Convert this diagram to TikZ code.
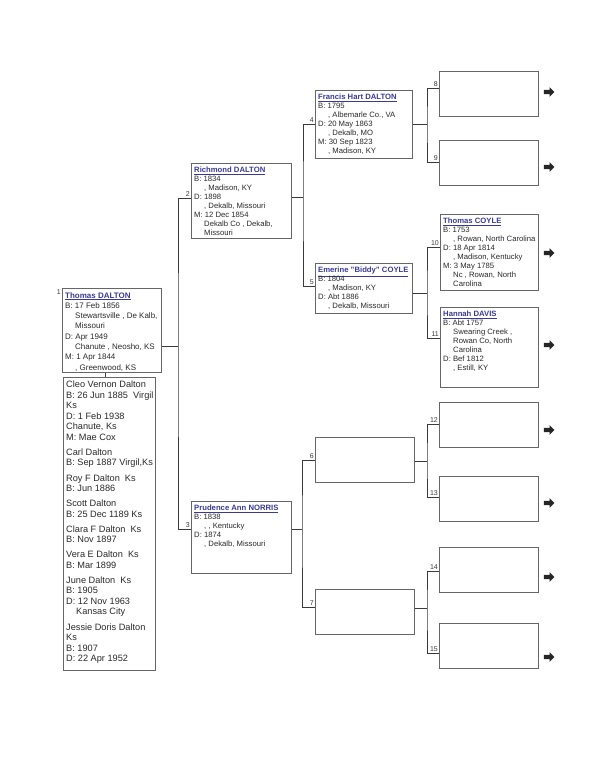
\documentclass[tikz,border=0pt]{standalone}
\usepackage{fontspec}
\setmainfont{Liberation Sans}
\usetikzlibrary{shapes.arrows, positioning, calc}
\definecolor{boxline}{HTML}{666666}
\definecolor{linkline}{HTML}{3A3A3A}
\definecolor{namecol}{HTML}{3A3A95}
\definecolor{numcol}{HTML}{3A3A3A}
\definecolor{inkcol}{HTML}{2A2A2A}

\newcommand{\pname}[1]{\textcolor{namecol}{\textbf{\underline{#1}}}}
\newcommand{\ind}{\hspace*{10pt}}

\begin{document}
\begin{tikzpicture}[x=1pt, y=-1pt,
    pbox/.style={draw=boxline, line width=0.7pt, fill=white, anchor=north west, inner sep=0pt},
    ptext/.style={anchor=north west, align=left, inner xsep=3pt, inner ysep=4pt,
        font=\fontsize{7.7}{9}\selectfont, text=inkcol},
    link/.style={draw=linkline, line width=0.7pt},
    num/.style={anchor=south east, inner sep=1pt, font=\fontsize{7}{8}\selectfont, text=numcol},
    more/.style={single arrow, fill=black!85, inner sep=1.9pt, single arrow head extend=2.7pt,
        single arrow head indent=0pt, minimum height=10.5pt}
]
\fill[white] (0,0) rectangle (600,776);
\useasboundingbox (0,0) rectangle (600,776);

% Generation 1 and the children
\node[pbox, minimum width=99pt, minimum height=84pt] (p1) at (62,288) {};
\node[ptext, font=\fontsize{8}{10.3}\selectfont] (t1) at (p1.north west) {\pname{Thomas DALTON}\\
    B: 17 Feb 1856\\
    \ind Stewartsville , De Kalb,\\
    \ind Missouri\\
    D: Apr 1949\\
    \ind Chanute , Neosho, KS\\
    M: 1 Apr 1844\\
    \ind , Greenwood, KS};
\node[pbox, minimum width=92pt, minimum height=293pt] (kids) at (63,377) {};
\node[ptext, font=\fontsize{9.2}{10.5}\selectfont] (tk) at (kids.north west) {Cleo Vernon Dalton\\
    B: 26 Jun 1885\ \ Virgil\\
    Ks\\
    D: 1 Feb 1938\\
    Chanute, Ks\\
    M: Mae Cox\\[4.6pt]
    Carl Dalton\\
    B: Sep 1887 Virgil,Ks\\[4.6pt]
    Roy F Dalton\ \ Ks\\
    B: Jun 1886\\[4.6pt]
    Scott Dalton\\
    B: 25 Dec 1189 Ks\\[4.6pt]
    Clara F Dalton\ \ Ks\\
    B: Nov 1897\\[4.6pt]
    Vera E Dalton\ \ Ks\\
    B: Mar 1899\\[4.6pt]
    June Dalton\ \ Ks\\
    B: 1905\\
    D: 12 Nov 1963\\
    \ind Kansas City\\[4.6pt]
    Jessie Doris Dalton\\
    Ks\\
    B: 1907\\
    D: 22 Apr 1952};
\node[num, anchor=north east] (n1) at (p1.north west) {1};

% Generation 2
\node[pbox, minimum width=100pt, minimum height=75pt] (p2) at (191,163) {};
\node[ptext] (t2) at (p2.north west) {\pname{Richmond DALTON}\\
    B: 1834\\
    \ind , Madison, KY\\
    D: 1898\\
    \ind , Dekalb, Missouri\\
    M: 12 Dec 1854\\
    \ind Dekalb Co , Dekalb,\\
    \ind Missouri};
\node[pbox, minimum width=100pt, minimum height=72pt] (p3) at (191,501) {};
\node[ptext] (t3) at (p3.north west) {\pname{Prudence Ann NORRIS}\\
    B: 1838\\
    \ind , , Kentucky\\
    D: 1874\\
    \ind , Dekalb, Missouri};

% Generation 3
\node[pbox, minimum width=97pt, minimum height=68pt] (p4) at (315,90) {};
\node[ptext] (t4) at (p4.north west) {\pname{Francis Hart DALTON}\\
    B: 1795\\
    \ind , Albemarle Co., VA\\
    D: 20 May 1863\\
    \ind , Dekalb, MO\\
    M: 30 Sep 1823\\
    \ind , Madison, KY};
\node[pbox, minimum width=97pt, minimum height=50pt] (p5) at (315,263) {};
\node[ptext] (t5) at (p5.north west) {\pname{Emerine "Biddy" COYLE}\\
    B: 1804\\
    \ind , Madison, KY\\
    D: Abt 1886\\
    \ind , Dekalb, Missouri};
\node[pbox, minimum width=99pt, minimum height=45pt] (p6) at (315,437) {};
\node[pbox, minimum width=99pt, minimum height=45pt] (p7) at (315,589) {};

% Generation 4
\node[pbox, minimum width=99pt, minimum height=45pt] (p8) at (439,71) {};
\node[pbox, minimum width=99pt, minimum height=45pt] (p9) at (439,140) {};
\node[pbox, minimum width=98pt, minimum height=76pt] (p10) at (440,214) {};
\node[ptext] (t10) at (p10.north west) {\pname{Thomas COYLE}\\
    B: 1753\\
    \ind , Rowan, North Carolina\\
    D: 18 Apr 1814\\
    \ind , Madison, Kentucky\\
    M: 3 May 1785\\
    \ind Nc , Rowan, North\\
    \ind Carolina};
\node[pbox, minimum width=98pt, minimum height=80pt] (p11) at (440,307) {};
\node[ptext] (t11) at (p11.north west) {\pname{Hannah DAVIS}\\
    B: Abt 1757\\
    \ind Swearing Creek ,\\
    \ind Rowan Co, North\\
    \ind Carolina\\
    D: Bef 1812\\
    \ind , Estill, KY};
\node[pbox, minimum width=99pt, minimum height=45pt] (p12) at (439,402) {};
\node[pbox, minimum width=99pt, minimum height=45pt] (p13) at (439,476) {};
\node[pbox, minimum width=99pt, minimum height=45pt] (p14) at (439,547) {};
\node[pbox, minimum width=99pt, minimum height=45pt] (p15) at (439,623) {};

% Junctions of the brackets
\coordinate (j1) at (178,346);
\coordinate (j2) at (303,197);
\coordinate (j3) at (302,529);
\coordinate (j4) at (427,124);
\coordinate (j5) at (427,293);
\coordinate (j6) at (427,461);
\coordinate (j7) at (427,608);

% Connectors
\draw[link] (p1.north east |- j1) -- (j1);
\draw[link] (p2.west |- 0,198) -| (j1) |- (p3.west |- 0,529);
\draw[link] (p1.south -| 105,0) -- (kids.north -| 105,0);
\draw[link] (p2.east |- j2) -- (j2);
\draw[link] (p4.west |- 0,124) -| (j2) |- (p5.west |- 0,286);
\draw[link] (p3.east |- j3) -- (j3);
\draw[link] (p6.west |- 0,460) -| (j3) |- (p7.west |- 0,607);
\draw[link] (p4.east |- j4) -- (j4);
\draw[link] (p8.west |- 0,88) -| (j4) |- (p9.west |- 0,162);
\draw[link] (p5.east |- j5) -- (j5);
\draw[link] (p10.west |- 0,247) -| (j5) |- (p11.west |- 0,338);
\draw[link] (p6.east |- j6) -- (j6);
\draw[link] (p12.west |- 0,424) -| (j6) |- (p13.west |- 0,497);
\draw[link] (p7.east |- j7) -- (j7);
\draw[link] (p14.west |- 0,571) -| (j7) |- (p15.west |- 0,653);

% Numbers
\node[num] (n2) at (p2.west |- 0,198) {2};
\node[num] (n3) at (p3.west |- 0,529) {3};
\node[num] (n4) at (p4.west |- 0,124) {4};
\node[num] (n5) at (p5.west |- 0,286) {5};
\node[num] (n6) at (p6.west |- 0,460) {6};
\node[num] (n7) at (p7.west |- 0,607) {7};
\node[num] (n8) at (p8.west |- 0,88) {8};
\node[num] (n9) at (p9.west |- 0,162) {9};
\node[num] (n10) at (p10.west |- 0,247) {10};
\node[num] (n11) at (p11.west |- 0,338) {11};
\node[num] (n12) at (p12.west |- 0,424) {12};
\node[num] (n13) at (p13.west |- 0,497) {13};
\node[num] (n14) at (p14.west |- 0,571) {14};
\node[num] (n15) at (p15.west |- 0,653) {15};

% Continuation arrows
\foreach \b/\y in {8/92, 9/167, 10/253, 11/345, 12/430, 13/503, 14/577, 15/657} {
    \node[more] (m\b) at (548,\y) {};
}

\end{tikzpicture}
\end{document}
